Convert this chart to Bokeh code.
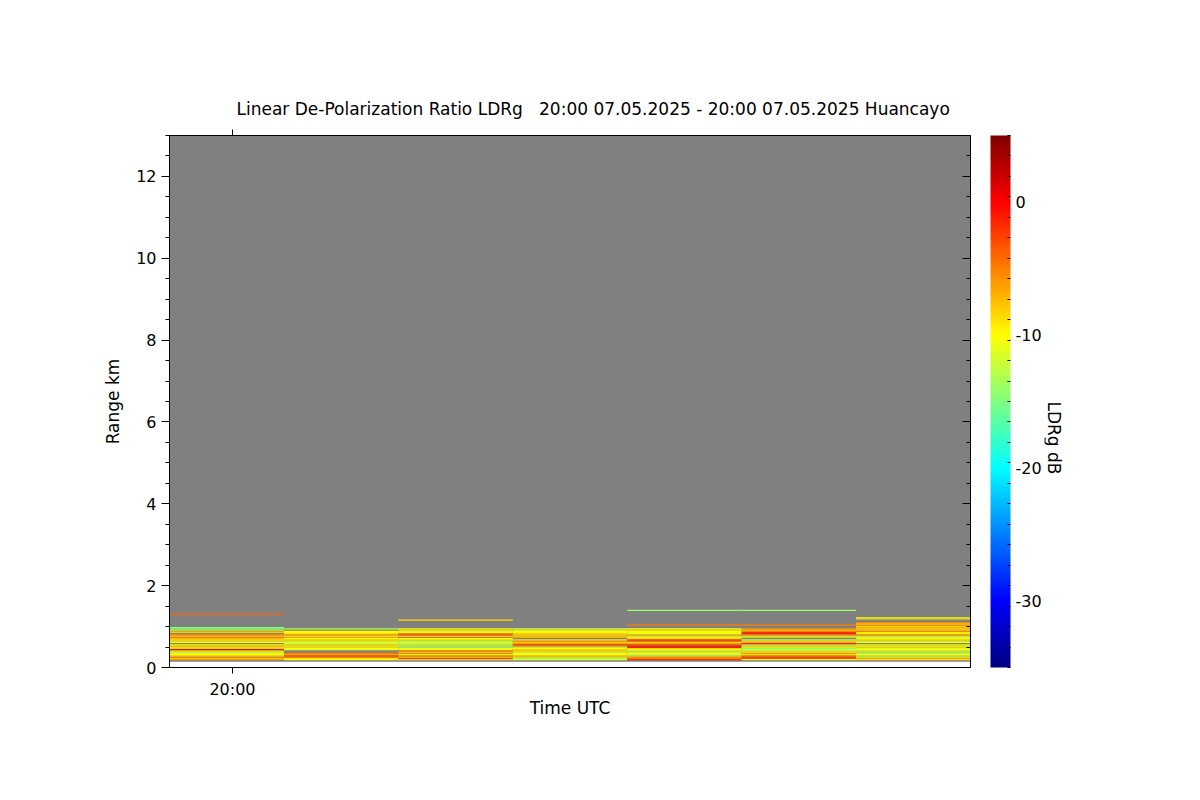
import numpy as np
from bokeh.plotting import figure
from bokeh.models import (LinearColorMapper, ColorBar, LinearAxis, FixedTicker,
                          Range1d, ColumnDataSource)
from bokeh.embed import file_html
from bokeh.resources import INLINE

nan = float("nan")

# ---------------- data ----------------
profile_start_s = [-5.5, 4.5, 14.5, 24.5, 34.5, 44.5, 54.5]   # seconds relative to 20:00 UTC
profile_len_s = 10.0
gate_base_km = 0.15
gate_step_km = 0.03
field_bottom_km = 0.14
field_top_km = 13.0

ldr_p1 = [nan, -6, -8, -5, -9, -10, -12, -10, -11, 0, -9, -10, -8, -10, nan, -10, -9, -10, -7, -5,
          -8, -6, nan, -8, -6, -13, -15, -15, nan, nan, nan, nan, nan, nan, nan, nan, nan, nan, -4, nan,
          nan, nan]
ldr_p2 = [nan, -10, -9, -5, -3, -6, -5, nan, nan, -11, -10, -9, -10, -9, -12, -12, -10, -9, -10, -6,
          -10, -6, -9, -10, -10, nan, -13, nan, nan, nan, nan, nan, nan, nan, nan, nan, nan, nan, nan, nan,
          nan, nan]
ldr_p3 = [nan, -9, -2, -8, -5, -10, -5, -9, -4, -10, -11, -14, -13, -11, -14, -10, -12, -11, -10, -4,
          -11, -3, -5, -10, -12, -9, -10, nan, nan, nan, nan, nan, nan, -9, nan, nan, nan, nan, nan, nan,
          nan, nan]
ldr_p4 = [nan, -10, -15, -9, -8, -10, -11, -10, -9, -8, -10, -12, -7, -2, -6, -8, -6, -9, nan, -7,
          -8, -9, -8, -10, -10, -11, -12, nan, nan, nan, nan, nan, nan, nan, nan, nan, nan, nan, nan, nan,
          nan, nan]
ldr_p5 = [nan, -2, -5, -6, -9, -13, -10, -11, -12, -10, -8, 0, -1, -3, -6, -9, -4, -2, -8, -10,
          -12, -7, -10, -11, -10, -9, -10, nan, nan, -5, nan, nan, nan, nan, nan, nan, nan, nan, nan, nan,
          nan, -14]
ldr_p6 = [nan, -10, -3, -2, -5, -9, -6, -9, -10, -12, -15, -10, -9, -12, -1, -7, -9, -12, nan, -8,
          -13, -6, -1, -2, -5, -8, -6, nan, nan, -5, nan, nan, nan, nan, nan, nan, nan, nan, nan, nan,
          nan, -14]
ldr_p7 = [nan, -9, -6, -11, -13, -10, -15, -9, -11, -10, -12, -9, -10, -11, nan, -10, -11, -9, -10, -13,
          -10, -5, -10, -9, -5, -8, -9, -7, -8, -6, -9, -5, nan, nan, -9, -10, nan, nan, nan, nan,
          nan, nan]
profiles = [ldr_p1, ldr_p2, ldr_p3, ldr_p4, ldr_p5, ldr_p6, ldr_p7]

range_ticks = [0, 2, 4, 6, 8, 10, 12]
range_minor = [i * 0.5 for i in range(27)]
time_ticks = [0]
time_labels = {0: "20:00"}
cbar_ticks = [-30, -20, -10, 0]
cbar_labels = {-30: "-30", -20: "-20", -10: "-10", 0: "0"}
ldr_low, ldr_high = -35, 5
cbar_minor = [ldr_low + k * (ldr_high - ldr_low) / 26 for k in range(27)]

NB = "\u00a0"
TITLE = "Linear De-Polarization Ratio LDRg" + NB * 3 + "20:00 07.05.2025 - 20:00 07.05.2025 Huancayo"
FONT = "DejaVu Sans"

# ---------------- colour map (jet) ----------------
def jet_palette(n=256):
    out = []
    for k in range(n):
        x = k / (n - 1)
        r = np.clip(1.5 - abs(4 * x - 3), 0, 1)
        g = np.clip(1.5 - abs(4 * x - 2), 0, 1)
        b = np.clip(1.5 - abs(4 * x - 1), 0, 1)
        out.append("#%02x%02x%02x" % (int(round(r * 255)), int(round(g * 255)), int(round(b * 255))))
    return out

mapper = LinearColorMapper(palette=jet_palette(), low=ldr_low, high=ldr_high)

# ---------------- build quads ----------------
L, R, B, T, V = [], [], [], [], []
for t0, prof in zip(profile_start_s, profiles):
    for i, v in enumerate(prof):
        if v == v:
            L.append(t0)
            R.append(t0 + profile_len_s)
            B.append(gate_base_km + i * gate_step_km)
            T.append(gate_base_km + (i + 1) * gate_step_km)
            V.append(v)
src = ColumnDataSource(dict(left=L, right=R, bottom=B, top=T, ldr=V))

x0 = profile_start_s[0]
x1 = profile_start_s[-1] + profile_len_s

W, H = 1180, 780
FL, FT, FW, FH = 169, 135, 801, 532
p = figure(width=W, height=H, x_range=Range1d(x0, x1), y_range=Range1d(0, field_top_km),
           output_backend="svg", toolbar_location=None,
           x_axis_location=None, y_axis_location=None,
           min_border_left=FL, min_border_right=W - FL - FW,
           min_border_top=FT, min_border_bottom=H - FT - FH)
p.grid.visible = False
p.outline_line_color = None
p.background_fill_color = "white"

# gray field
p.quad(left=[x0], right=[x1], bottom=[field_bottom_km], top=[field_top_km],
       fill_color="#808080", line_color=None)
p.quad(left="left", right="right", bottom="bottom", top="top", source=src,
       fill_color={"field": "ldr", "transform": mapper}, line_color=None)

def style_axis(ax):
    ax.axis_line_color = "black"
    ax.major_tick_line_color = "black"
    ax.minor_tick_line_color = "black"
    ax.major_label_text_font = FONT
    ax.major_label_text_font_size = "16px"
    ax.major_label_text_color = "black"
    ax.axis_label_text_font = FONT
    ax.axis_label_text_font_size = "17px"
    ax.axis_label_text_font_style = "normal"
    ax.axis_label_text_color = "black"

left = LinearAxis(ticker=FixedTicker(ticks=range_ticks, minor_ticks=range_minor),
                  axis_label="Range km", major_tick_out=8, major_tick_in=0,
                  minor_tick_out=4, minor_tick_in=0, major_label_standoff=5,
                  axis_label_standoff=10)
style_axis(left)
p.add_layout(left, "left")

bottom = LinearAxis(ticker=FixedTicker(ticks=time_ticks, minor_ticks=[]),
                    major_label_overrides=time_labels, axis_label="Time UTC",
                    major_tick_out=6, major_tick_in=0, minor_tick_out=0, minor_tick_in=0,
                    major_label_standoff=6, axis_label_standoff=-4)
style_axis(bottom)
p.add_layout(bottom, "below")

top = LinearAxis(ticker=FixedTicker(ticks=time_ticks, minor_ticks=[]),
                 major_label_overrides={0: ""}, major_tick_out=6, major_tick_in=0,
                 minor_tick_out=0, minor_tick_in=0, major_label_standoff=0)
style_axis(top)
p.add_layout(top, "above")

# right frame axis; its invisible axis label keeps a 20px gap before the colour bar
right = LinearAxis(ticker=FixedTicker(ticks=range_ticks, minor_ticks=range_minor),
                   major_label_overrides={t: "" for t in range_ticks},
                   major_tick_out=0, major_tick_in=8, minor_tick_out=0, minor_tick_in=4,
                   major_label_standoff=0, axis_label=NB, axis_label_standoff=6)
style_axis(right)
right.axis_label_text_font_size = "10px"
p.add_layout(right, "right")

cbar = ColorBar(color_mapper=mapper, ticker=FixedTicker(ticks=cbar_ticks, minor_ticks=cbar_minor),
                major_label_overrides=cbar_labels,
                width=20, height=FH, padding=0, margin=0, label_standoff=5,
                major_tick_in=0, major_tick_out=0, minor_tick_in=3, minor_tick_out=0,
                major_tick_line_color="black", minor_tick_line_color="black",
                bar_line_color=None, border_line_color=None,
                major_label_text_font=FONT, major_label_text_font_size="16px",
                major_label_text_color="black")
p.add_layout(cbar, "right")

p.extra_y_ranges = {"cb": Range1d(0, 1)}
lab = LinearAxis(y_range_name="cb", ticker=FixedTicker(ticks=[]), axis_label="LDRg dB",
                 major_tick_out=0, major_tick_in=0, major_label_standoff=0,
                 axis_label_orientation=-np.pi / 2, axis_label_standoff=9)
style_axis(lab)
lab.axis_line_color = None
lab.major_tick_line_color = None
lab.minor_tick_line_color = None
p.add_layout(lab, "right")

p.title.text = TITLE
p.title.text_font = FONT
p.title.text_font_size = "17px"
p.title.text_font_style = "normal"
p.title.text_color = "black"
p.title.align = "left"
p.title.offset = 67
p.title.standoff = 21

open("out.html", "w").write(file_html(p, INLINE))
